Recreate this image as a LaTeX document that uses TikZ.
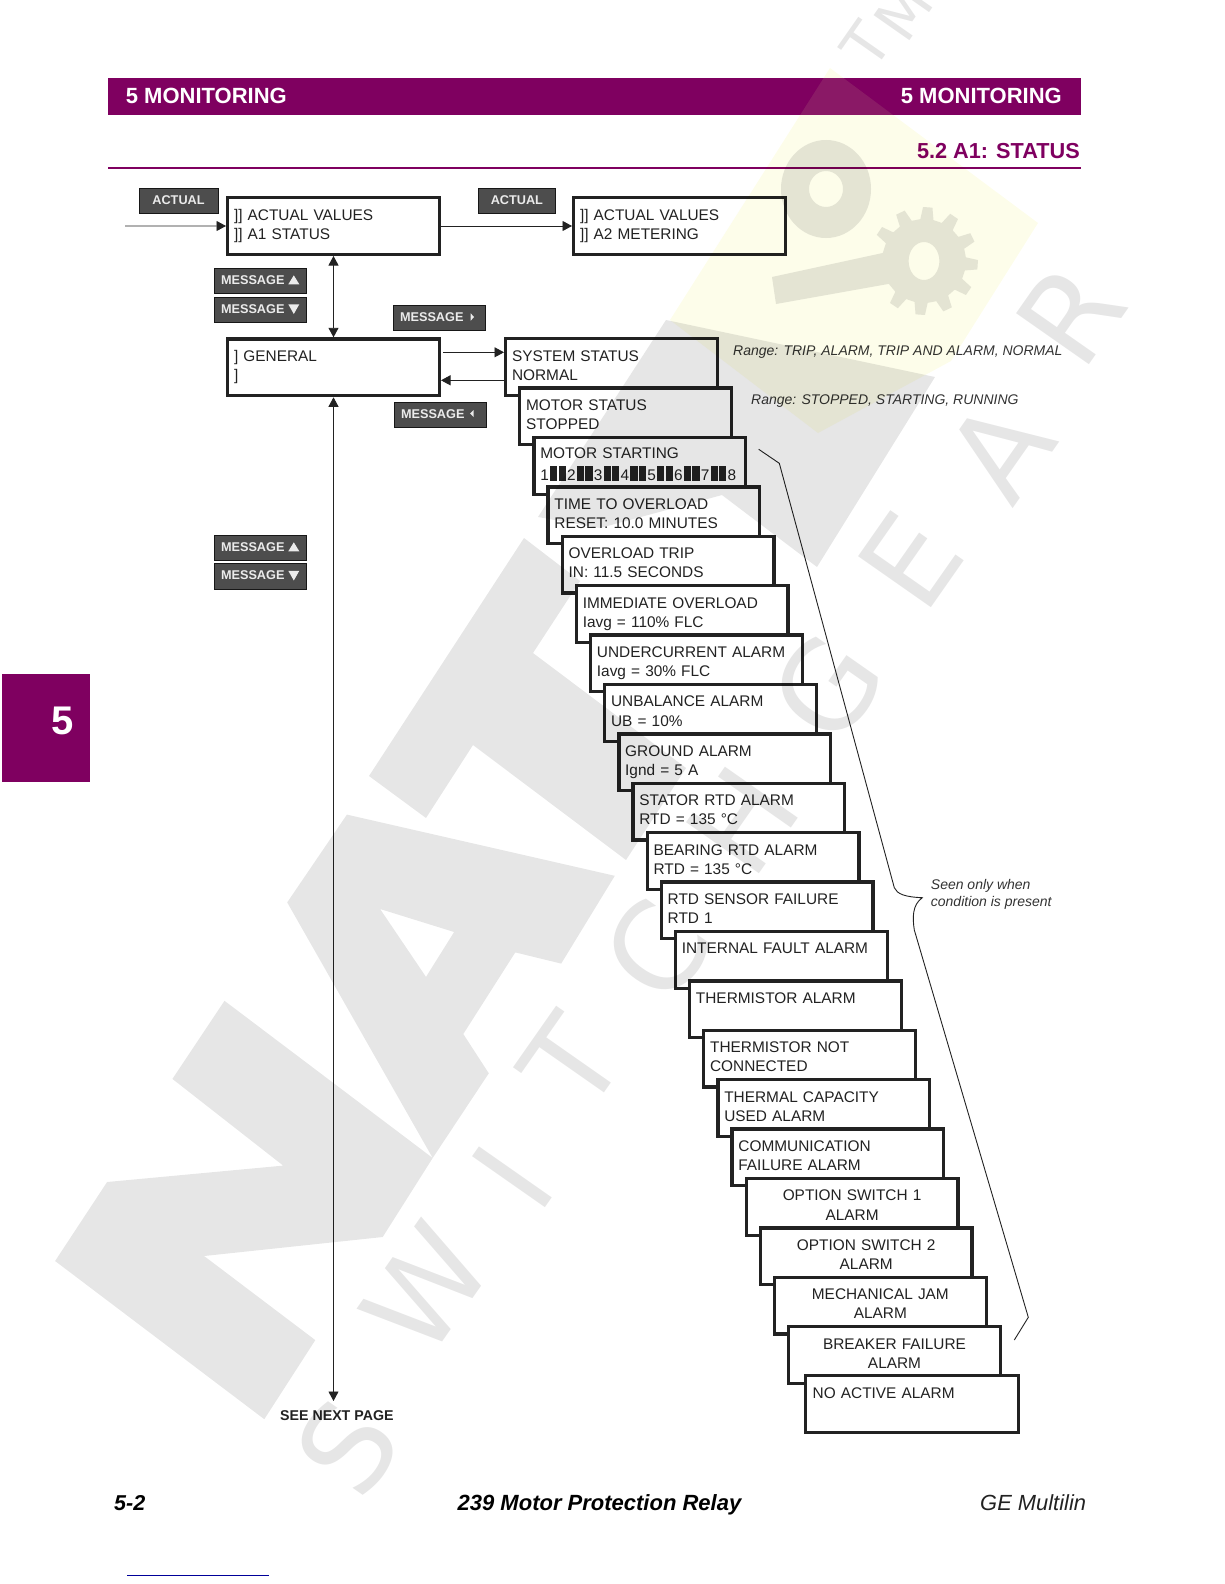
\documentclass[tikz,border=0pt]{standalone}
\usepackage{fontspec}
\setmainfont{Liberation Sans}
\newfontfamily\wmfont{DejaVu Sans}
\usetikzlibrary{arrows.meta,calc}
\definecolor{plum}{HTML}{7F0060}
\definecolor{ink}{HTML}{222222}
\definecolor{btn}{HTML}{4D4D4D}
\definecolor{wmgray}{HTML}{E6E6E6}
\definecolor{wmyellow}{HTML}{FDFDEA}
\newcommand{\ls}{\rule[-6pt]{0pt}{19.3pt}}
\newcommand{\bs}{\rule[-2.1pt]{0pt}{11.1pt}}
\newcommand{\bk}{\hspace{1.2pt}\rule[-.3pt]{7.3pt}{15pt}\hspace{1.2pt}\rule[-.3pt]{7.3pt}{15pt}\hspace{1.2pt}}
\tikzset{
  lcdbase/.style={draw=ink,fill=white,line width=3.3pt,outer sep=1.65pt,inner xsep=6.35pt,inner ysep=0pt,
    minimum height=56.7pt,text width=199pt,text=ink,anchor=north west,font=\fontsize{15.4}{19.3}\selectfont},
  lcd/.style={lcdbase,align=left},
  lcdc/.style={lcdbase,align=center},
  button/.style={draw=black!70!btn,line width=.7pt,fill=btn,text=white!92!black,outer sep=0pt,inner xsep=7pt,inner ysep=0pt,
    minimum height=25.5pt,anchor=north west,font=\bfseries\fontsize{12.7}{14}\selectfont},
  msgbtn/.style={button,text width=78pt,align=left},
  actbtn/.style={button,align=center},
  btri/.style={fill=white!92!black},
  conn/.style={draw=ink,line width=.9pt},
  tipr/.style={-{Triangle[length=9.5pt,width=10pt]}},
  tipb/.style={{Triangle[length=9.5pt,width=10pt]}-{Triangle[length=9.5pt,width=10pt]}},
  lab/.style={inner sep=0pt,anchor=base west,text=ink},
  labe/.style={inner sep=0pt,anchor=base east},
  rng/.style={lab,font=\itshape\fontsize{14}{16.7}\selectfont,text=black!80},
  foot/.style={inner sep=0pt,anchor=base west,text=black},
  wmtxt/.style={inner sep=0pt,text=wmgray,rotate=55,font=\wmfont\fontsize{122}{122}\selectfont},
  wmtm/.style={inner sep=0pt,text=wmgray,rotate=55,font=\wmfont\fontsize{60}{60}\selectfont},
}
\newcommand{\stairbox}[3][lcd]{\node[#1] (s#2) at ({504+14.15*#2},{337+49.4*#2}) {#3};}
\begin{document}
\begin{tikzpicture}[x=1pt,y=-1pt]
\useasboundingbox (0,0) rectangle (1224,1584);
% page furniture
\fill[plum] (108,78) rectangle (1081,115);
\node[labe,text=white,font=\bfseries\fontsize{22}{24}\selectfont] (hdl) at (287,104) {5 MONITORING};
\node[labe,text=white,font=\bfseries\fontsize{22}{24}\selectfont] (hdr) at (1062,104) {5 MONITORING};
\node[labe,text=plum,font=\bfseries\fontsize{21.7}{24}\selectfont] (sec) at (1080,158) {5.2 A1: STATUS};
\fill[plum] (108,167) rectangle (1081,169);
\fill[plum] (2,673.5) rectangle (90,781.5);
\node[inner sep=0pt,text=white,font=\bfseries\fontsize{40}{42}\selectfont] (tabn) at (63,721) {5};
% top level
\node[actbtn,minimum width=79pt] (act1) at (139,188) {\bs ACTUAL};
\node[actbtn,minimum width=77.7pt] (act2) at (478,188) {\bs ACTUAL};
\node[lcd] (a1) at (226,196) {\ls ]] ACTUAL VALUES\\\ls ]] A1 STATUS};
\node[lcd] (a2) at (572,196) {\ls ]] ACTUAL VALUES\\\ls ]] A2 METERING};
\node[lcd] (gen) at (226,337.3) {\ls ] GENERAL\\\ls ]};
\node[msgbtn] (mu1) at (214,268) {\bs MESSAGE};
\fill[btri,shift={(mu1.north west)}] (74.3,16.3) -- (85.3,16.3) -- (79.8,7.3) -- cycle;
\node[msgbtn] (md1) at (214,297) {\bs MESSAGE};
\fill[btri,shift={(md1.north west)}] (74.3,7.3) -- (85.3,7.3) -- (79.8,17) -- cycle;
\node[msgbtn] (mr) at (393,305) {\bs MESSAGE};
\fill[btri,shift={(mr.north west)}] (77.7,8.3) -- (81,12) -- (77.7,15.7) -- cycle;
\node[msgbtn] (ml) at (394,402) {\bs MESSAGE};
\fill[btri,shift={(ml.north west)}] (79.7,8) -- (76,11.5) -- (79.7,15) -- cycle;
\node[msgbtn] (mu2) at (214,535) {\bs MESSAGE};
\fill[btri,shift={(mu2.north west)}] (74.3,16.3) -- (85.3,16.3) -- (79.8,7.3) -- cycle;
\node[msgbtn] (md2) at (214,563.5) {\bs MESSAGE};
\fill[btri,shift={(md2.north west)}] (74.3,7.3) -- (85.3,7.3) -- (79.8,17) -- cycle;
% stair of messages
\stairbox{0}{\ls SYSTEM STATUS\\\ls NORMAL}
\stairbox{1}{\ls MOTOR STATUS\\\ls STOPPED}
\stairbox{2}{\ls MOTOR STARTING\\\ls 1\bk 2\bk 3\bk 4\bk 5\bk 6\bk 7\bk 8}
\stairbox{3}{\ls TIME TO OVERLOAD\\\ls RESET: 10.0 MINUTES}
\stairbox{4}{\ls OVERLOAD TRIP\\\ls IN: 11.5 SECONDS}
\stairbox{5}{\ls IMMEDIATE OVERLOAD\\\ls Iavg = 110\% FLC}
\stairbox{6}{\ls UNDERCURRENT ALARM\\\ls Iavg = 30\% FLC}
\stairbox{7}{\ls UNBALANCE ALARM\\\ls UB = 10\%}
\stairbox{8}{\ls GROUND ALARM\\\ls Ignd = 5 A}
\stairbox{9}{\ls STATOR RTD ALARM\\\ls RTD = 135 °C}
\stairbox{10}{\ls BEARING RTD ALARM\\\ls RTD = 135 °C}
\stairbox{11}{\ls RTD SENSOR FAILURE\\\ls RTD 1}
\stairbox{12}{\ls INTERNAL FAULT ALARM\\\ls}
\stairbox{13}{\ls THERMISTOR ALARM\\\ls}
\stairbox{14}{\ls THERMISTOR NOT\\\ls CONNECTED}
\stairbox{15}{\ls THERMAL CAPACITY\\\ls USED ALARM}
\stairbox{16}{\ls COMMUNICATION\\\ls FAILURE ALARM}
\stairbox[lcdc]{17}{\ls OPTION SWITCH 1\\\ls ALARM}
\stairbox[lcdc]{18}{\ls OPTION SWITCH 2\\\ls ALARM}
\stairbox[lcdc]{19}{\ls MECHANICAL JAM\\\ls ALARM}
\stairbox[lcdc]{20}{\ls BREAKER FAILURE\\\ls ALARM}
\node[lcd,minimum width=213pt] (s21) at (804,1374) {\ls NO ACTIVE ALARM\\\ls};
% connectors
\coordinate (inA) at (125,226);
\coordinate (next) at (333.5,1401);
\coordinate (g1) at (443,352.3);
\coordinate (g2) at (504,380.3);
\draw[conn,tipr] (inA) -- (a1.west);
\draw[conn,tipr] (a1.east) -- (a2.west);
\draw[conn,tipb] (a1.south) -- (gen.north);
\draw[conn,tipr] (g1) -- (s0.west |- g1);
\draw[conn,tipr] (g2) -- (gen.east |- g2);
\draw[conn,tipb] (gen.south) -- (next);
% labels
\node[rng] (r1) at (733,355.3) {Range: TRIP, ALARM, TRIP AND ALARM, NORMAL};
\node[rng] (r2) at (751,404.3) {Range: STOPPED, STARTING, RUNNING};
\node[rng,align=left,anchor=north west] (seen) at (930.7,879.5) {Seen only when\\condition is present};
\node[lab,font=\bfseries\fontsize{14.2}{16}\selectfont] (snp) at (280,1420.7) {SEE NEXT PAGE};
\draw[draw=ink,line width=.9pt] (758.7,449.3) -- (779.3,463.3) -- (894.3,887.7)
  .. controls (897,894) and (905,897) .. (922.3,897.7)
  .. controls (912,905) and (912.5,918) .. (914.3,930)
  -- (1028.3,1317.3) -- (1014.3,1340);
% footer
\node[foot,font=\bfseries\itshape\fontsize{21.5}{24}\selectfont] (f1) at (114,1510.5) {5-2};
\node[foot,font=\bfseries\itshape\fontsize{22}{24}\selectfont] (f2) at (457.5,1510.5) {239 Motor Protection Relay};
\node[foot,font=\itshape\fontsize{21.9}{24}\selectfont,text=ink] (f3) at (980,1510.5) {GE Multilin};
\draw[draw=blue!60!black,line width=1pt] (127,1575) -- (268.7,1575);
% watermark laid over everything
\begin{scope}
  \clip (108,78) rectangle (1081,115);
  \fill[white,opacity=.1] (830,68) -- (1038,223) -- (951,361) -- (818,433) -- (670,320) -- cycle;
\end{scope}
\begin{scope}[blend mode=multiply]
  \fill[wmyellow] (830,68) -- (1038,223) -- (951,361) -- (818,433) -- (670,320) -- cycle;
  % N
  \fill[wmgray] (224.5,1000.8) -- (172.4,1078.9) -- (283.2,1165.6) -- (107.1,1182) -- (55.1,1261)
    -- (264.3,1419.2) -- (315.3,1340.1) -- (204.1,1256) -- (382.7,1237) -- (432.7,1158) -- cycle;
  % A
  \fill[wmgray,even odd rule] (346.9,814.6) -- (287.2,902.4) -- (432.7,1158) -- (488.8,1073.3) -- (463.3,1034)
    -- (515.3,952.4) -- (561.2,963.6) -- (614.8,875.8) -- cycle
    (380.1,909) -- (454.1,932) -- (426,976.9) -- cycle;
  % T
  \fill[wmgray] (524,538) -- (369,776) -- (426,818) -- (473,745) -- (626,860) -- (686,768) -- (533,653) -- (580,581) -- cycle;
  % wedge
  \fill[wmgray] (666,320) -- (935,377) -- (817,567) -- (722,495) -- (600,528) -- (538,517) -- cycle;
  % gear and handle
  \fill[wmgray,even odd rule,shift={(924,261)}] (191:42)
    \foreach \ang in {214,244,...,484} { -- ({\ang-9}:42) -- ({\ang-5}:54) -- ({\ang+5}:54) -- ({\ang+9}:42) }
    -- (147:42) -- (-148,43) -- (-152,16) -- cycle
    (0,0) ellipse [x radius=15.4,y radius=19];
  % ring
  \fill[wmgray,even odd rule] (826,189) ellipse [x radius=45,y radius=49] (826,189) ellipse [x radius=17,y radius=18];
  % letters
  \node[wmtxt] (w1) at (347,1447) {S};
  \node[wmtxt] (w2) at (426,1289) {W};
  \node[wmtxt] (w3) at (512.8,1177) {I};
  \node[wmtxt] (w4) at (571,1062) {T};
  \node[wmtxt] (w5) at (657,950) {C};
  \node[wmtxt] (w6) at (742,820) {H};
  \node[wmtxt] (w7) at (827,687) {G};
  \node[wmtxt] (w8) at (910,560) {E};
  \node[wmtxt] (w9) at (1000,450) {A};
  \node[wmtxt] (w10) at (1070,314) {R};
  \node[wmtm] (tm1) at (866,45) {T};
  \node[wmtm] (tm2) at (903,12) {M};
\end{scope}
\end{tikzpicture}
\end{document}
